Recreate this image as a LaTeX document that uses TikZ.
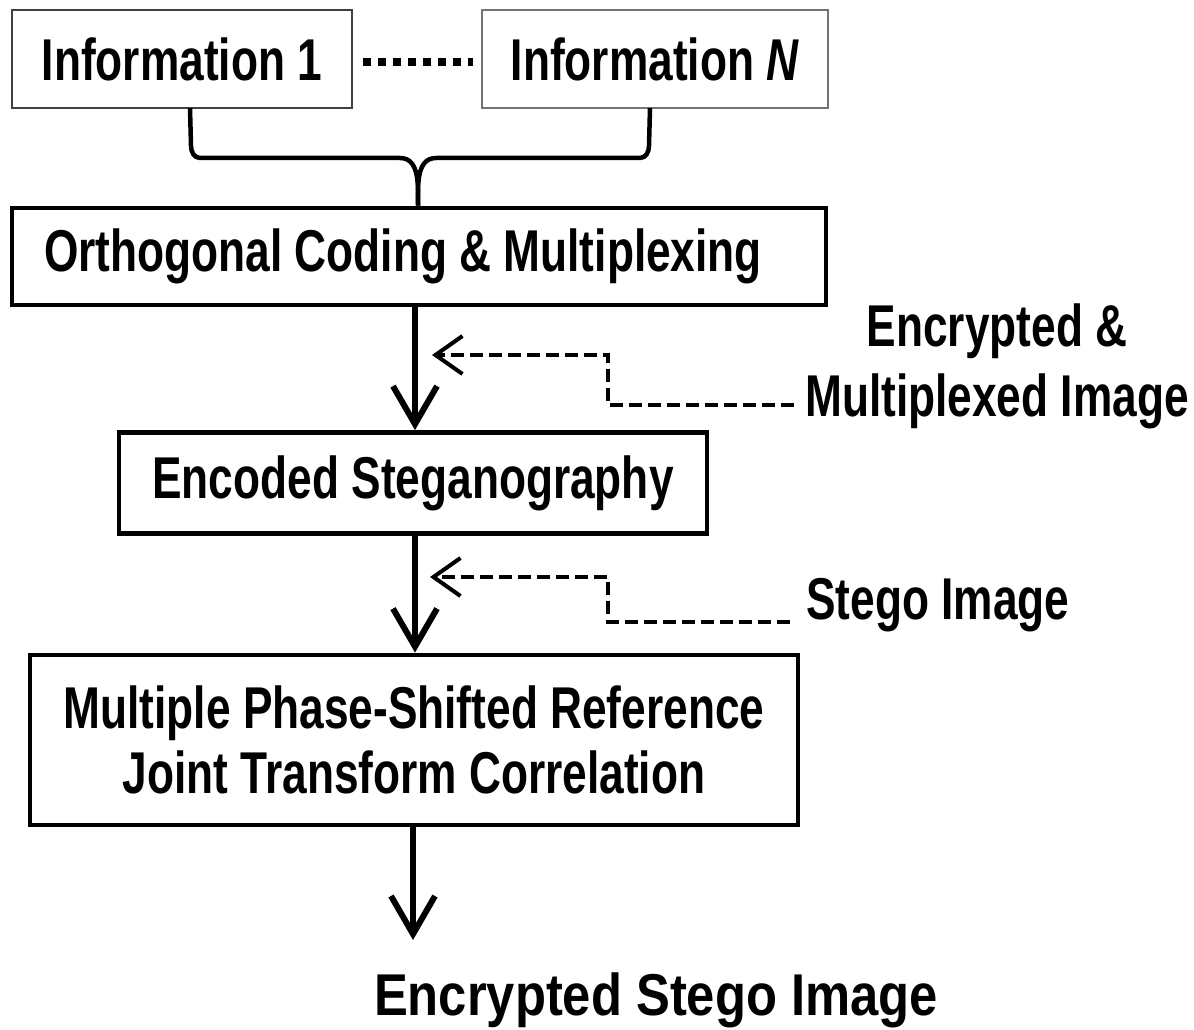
\documentclass[tikz,border=0pt]{standalone}
\usepackage{fontspec}
\setmainfont{Liberation Sans}[FakeStretch=0.75]
\newfontfamily\widefont{Liberation Sans}[FakeStretch=0.86]
\usetikzlibrary{arrows.meta}
\begin{document}
\begin{tikzpicture}[x=1pt,y=-1pt,
  txt/.style={font=\fontsize{59}{66}\selectfont\bfseries, inner sep=0pt},
  thinbox/.style={draw=black!75, line width=2.2pt, inner sep=0pt, txt},
  thickbox/.style={draw=black, line width=4.8pt, inner sep=0pt, txt},
  mainarr/.style={line width=6pt, -{Straight Barb[length=38pt,width=44pt]}},
  dasharr/.style={line width=4pt, dash pattern=on 13pt off 6pt, -{Straight Barb[length=27pt,width=38pt]}},
  brace/.style={line width=4.5pt, line join=round}
]
\fill[white] (0,0) rectangle (1194,1030);
\useasboundingbox (0,0) rectangle (1194,1030);

% top boxes
\node[thinbox, minimum width=340pt, minimum height=98pt] (info1) at (182,59) {Information 1};
\node[thinbox, draw=black!55, minimum width=346pt, minimum height=98pt] (infoN) at (655,59) {Information \textit{N}};
\draw[line width=8pt, dash pattern=on 8pt off 7pt, shorten <=10pt, shorten >=8pt] (info1.east |- 0,62) -- (infoN.west |- 0,62);

% main boxes
\node[thickbox, minimum width=814pt, minimum height=97pt] (orth) at (419,256.5) {\hspace*{-32pt}Orthogonal Coding \& Multiplexing};
\node[thickbox, minimum width=588pt, minimum height=101pt] (enc) at (413,483) {Encoded Steganography};
\node[thickbox, minimum width=768pt, minimum height=170pt, align=center, font=\fontsize{59}{65}\selectfont\bfseries] (mps) at (414,740) {Multiple Phase-Shifted Reference\\Joint Transform Correlation};

% brace from info boxes
\coordinate (bl) at (190,108);
\coordinate (br) at (650,108);
\coordinate (bm) at (418,160);
\draw[brace] (bl) -- (191,146) to[out=90+180,in=180] (200,158) -- (400,158) to[out=0,in=90] (bm |- orth.north);
\draw[brace] (br) -- (649,146) to[out=-90,in=0] (640,158) -- (436,158) to[out=180,in=90] (bm |- orth.north);

% main arrows
\draw[mainarr] (orth.south -| 415,0) -- (enc.north -| 415,0);
\draw[mainarr] (enc.south -| 415,0) -- (mps.north -| 415,0);
\coordinate (outarr) at (413,940);
\draw[mainarr] (mps.south -| 413,0) -- (outarr);

% labels
\node[txt, align=center, font=\fontsize{59}{70}\selectfont\bfseries] (lab1) at (997,366) {Encrypted \&\\Multiplexed Image};
\node[txt, anchor=west] (lab2) at (806,605) {Stego Image};
\node[txt, font=\widefont\fontsize{59}{66}\selectfont\bfseries] (out) at (656,1000) {Encrypted Stego Image};

% dashed feedback arrows
\coordinate (d1s) at (794,405);
\coordinate (d1e) at (432,355);
\draw[dasharr] (d1s) -- (608,405) -- (608,355) -- (d1e);
\coordinate (d2s) at (790,622);
\coordinate (d2e) at (430,577);
\draw[dasharr] (d2s) -- (608,622) -- (608,577) -- (d2e);
\end{tikzpicture}
\end{document}
